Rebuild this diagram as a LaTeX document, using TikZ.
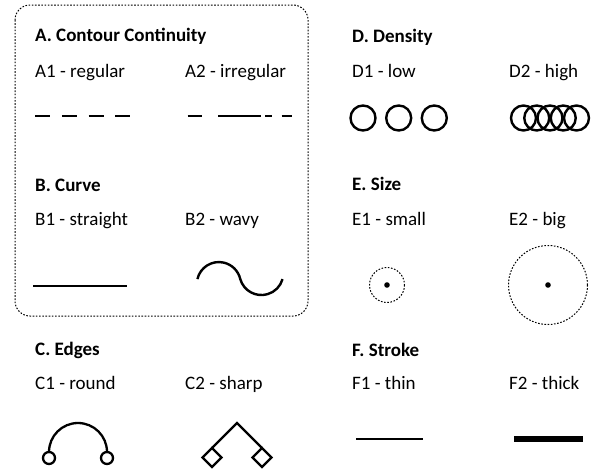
\documentclass[tikz,border=0pt]{standalone}
\usepackage{fontspec}
\setmainfont{Carlito}
\begin{document}
\begin{tikzpicture}[x=1pt,y=-1pt,
  hdr/.style={anchor=base west,inner sep=0pt,font=\fontsize{19}{21}\selectfont\bfseries},
  lbl/.style={anchor=base west,inner sep=0pt,font=\fontsize{19}{21}\selectfont},
  dotline/.style={line width=1pt,dash pattern=on 1.6pt off 1.6pt},
  shp/.style={line width=2.3pt}]
\useasboundingbox (0,0) rectangle (593,471);
% group box
\draw[dotline,rounded corners=15pt] (15,5) rectangle (308,316);
% A
\node[hdr] (ha) at (35,41) {A. Contour Continuity};
\node[lbl] (a1) at (35,77) {A1 - regular};
\node[lbl] (a2) at (185,77) {A2 - irregular};
\draw[line width=2.5pt,dash pattern=on 15pt off 11.8pt] (35,116) -- (131,116);
\draw[line width=2.5pt] (187.5,116) -- (202.3,116) (218.3,116) -- (260.7,116) (265,116) -- (271.7,116) (281.7,116) -- (291.7,116);
% B
\node[hdr] (hb) at (35,191) {B. Curve};
\node[lbl] (b1) at (35,225) {B1 - straight};
\node[lbl] (b2) at (185,225) {B2 - wavy};
\draw[line width=2.8pt] (33,286) -- (127,286);
\draw[line width=2.4pt] (197.4,279.1) arc[start angle=-167,end angle=-13,radius=22]
  arc[start angle=164,end angle=16,radius=22];
% C
\node[hdr] (hc) at (35,355) {C. Edges};
\node[lbl] (c1) at (35,389) {C1 - round};
\node[lbl] (c2) at (185,389) {C2 - sharp};
\draw[shp] (49,452) arc[start angle=180,end angle=360,radius=29];
\draw[shp] (49,458) circle[radius=6];
\draw[shp] (107,458) circle[radius=6];
\draw[shp,line join=miter] (212,448) -- (237,423) -- (262,448);
\draw[shp] (212,448) -- (221.5,457.5) -- (212,467) -- (202.5,457.5) -- cycle;
\draw[shp] (262,448) -- (271.5,457.5) -- (262,467) -- (252.5,457.5) -- cycle;
% D
\node[hdr] (hd) at (352,42) {D. Density};
\node[lbl] (d1) at (352,77) {D1 - low};
\node[lbl] (d2) at (509,77) {D2 - high};
\foreach \x in {363,398.7,434.3} \draw[line width=2.4pt] (\x,118) circle[radius=12.5];
\foreach \x in {523.5,536.75,550,563.25,576.5} \draw[line width=2.4pt] (\x,118) circle[radius=12.5];
% E
\node[hdr] (he) at (352,190) {E. Size};
\node[lbl] (e1) at (352,225) {E1 - small};
\node[lbl] (e2) at (509,225) {E2 - big};
\draw[dotline] (387,285) circle[radius=17.5];
\fill (387,285) circle[radius=2.8];
\draw[dotline] (548,285) circle[radius=39.5];
\fill (548,285) circle[radius=2.8];
% F
\node[hdr] (hf) at (352,356) {F. Stroke};
\node[lbl] (f1) at (352,389) {F1 - thin};
\node[lbl] (f2) at (509,389) {F2 - thick};
\draw[line width=2.2pt] (356,439) -- (423,439);
\draw[line width=6pt] (514,439) -- (583,439);
\end{tikzpicture}
\end{document}
